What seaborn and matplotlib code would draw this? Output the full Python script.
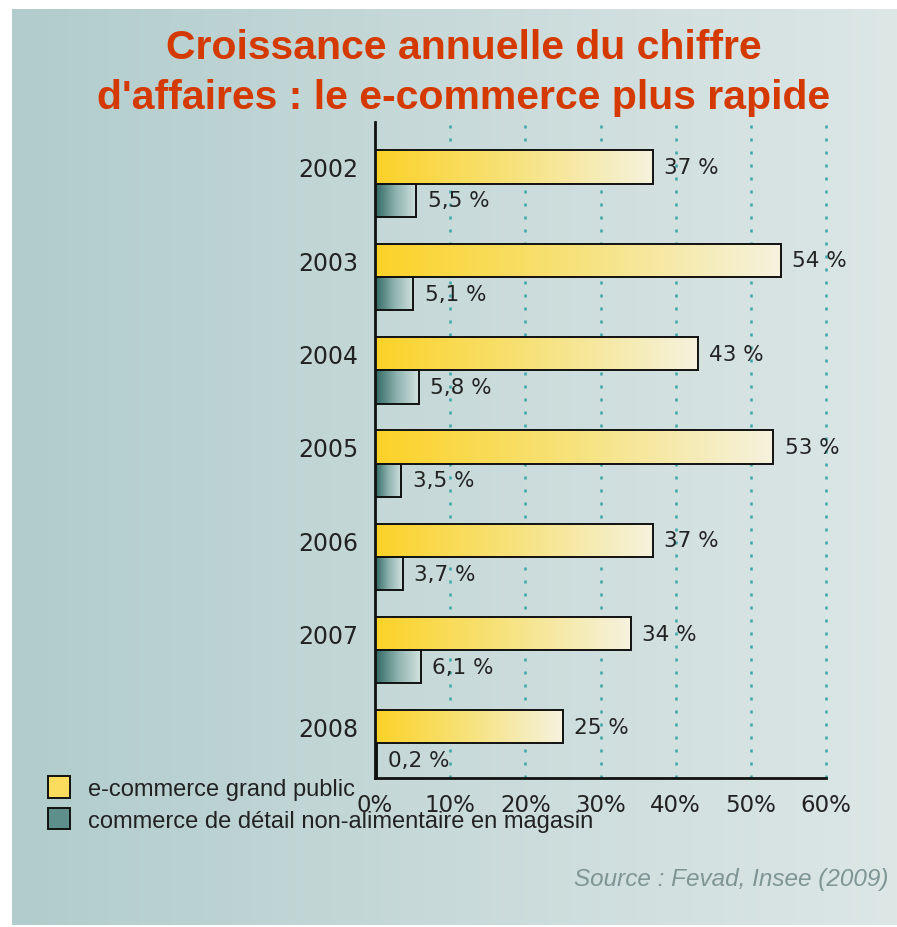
import numpy as np
import pandas as pd
import seaborn as sns
import matplotlib.pyplot as plt
from matplotlib.colors import LinearSegmentedColormap
from matplotlib.patches import Patch

# données (croissance annuelle du CA, en %)
annees = ["2002", "2003", "2004", "2005", "2006", "2007", "2008"]
ecommerce = [37, 54, 43, 53, 37, 34, 25]
magasin = [5.5, 5.1, 5.8, 3.5, 3.7, 6.1, 0.2]
series = ["e-commerce grand public", "commerce de détail non-alimentaire en magasin"]
xticks = [0, 10, 20, 30, 40, 50, 60]

df = pd.DataFrame({
    "annee": annees * 2,
    "valeur": ecommerce + magasin,
    "serie": [series[0]] * len(annees) + [series[1]] * len(annees),
})

cmap_jaune = LinearSegmentedColormap.from_list("jaune", ["#fcd227", "#f7e27c", "#f5f2de"])
cmap_vert = LinearSegmentedColormap.from_list("vert", ["#2f6763", "#8fb3af", "#d2e2df"])
cmap_fond = LinearSegmentedColormap.from_list("fond", ["#b1cccc", "#c9dada", "#dce7e6"])

sns.set_style("white")
plt.rcParams["font.family"] = ["DejaVu Sans"]

fig = plt.figure(figsize=(8.97, 9.28), dpi=100)

# fond dégradé
bg = fig.add_axes([12 / 897, 2 / 928, 885 / 897, 916 / 928])
bg.imshow(np.linspace(0, 1, 256)[None, :], cmap=cmap_fond, aspect="auto", extent=[0, 1, 0, 1])
bg.set_axis_off()

ax = fig.add_axes([375 / 897, 149 / 928, 451 / 897, 656 / 928])
ax.patch.set_alpha(0)

sns.barplot(data=df, y="annee", x="valeur", hue="serie", orient="h",
            width=0.714, dodge=True, ax=ax, legend=False,
            edgecolor="#111111", linewidth=1.4)

n = len(annees)
grad = np.linspace(0, 1, 256)[None, :]
patches = list(ax.patches)
for k, p in enumerate(patches):
    x, y, w, h = p.get_x(), p.get_y(), p.get_width(), p.get_height()
    cm = cmap_jaune if k < n else cmap_vert
    if w > 0.3:
        im = ax.imshow(grad, cmap=cm, aspect="auto", extent=[x, x + w, y + h, y], zorder=1.5)
        im.set_clip_path(p)
    p.set_facecolor("none")
    p.set_zorder(2)
    val = ecommerce[k] if k < n else magasin[k - n]
    txt = f"{val:g}".replace(".", ",") + " %"
    ax.text(x + w + 1.5, y + h / 2, txt, va="center", ha="left", fontsize=15.5, color="#222222", zorder=3)

ax.set_xlim(0, 60)
ax.set_ylim(6.37, -0.66)
ax.set_yticks([p.get_y() + p.get_height() / 2 for p in patches[:n]])
ax.set_yticklabels(annees)
ax.set_xticks(xticks)
ax.set_xticklabels([f"{t}%" for t in xticks])
ax.tick_params(axis="y", length=0, pad=12, labelsize=17, labelcolor="#222222")
ax.tick_params(axis="x", length=0, pad=11, labelsize=16.5, labelcolor="#222222")
ax.set_xlabel("")
ax.set_ylabel("")

ax.grid(False)
for t in xticks[1:]:
    ax.axvline(t, color="#3aa7a6", linestyle=(0, (1.2, 4)), linewidth=1.8, zorder=0.5, clip_on=False)

sns.despine(ax=ax, top=True, right=True)
ax.spines["left"].set_color("#111111")
ax.spines["bottom"].set_color("#111111")
ax.spines["left"].set_linewidth(2)
ax.spines["bottom"].set_linewidth(2)

fig.text(464 / 897, 1 - 73 / 928, "Croissance annuelle du chiffre\nd'affaires : le e-commerce plus rapide",
         ha="center", va="center", fontsize=29.5, fontweight="bold", color="#d43a00",
         family="Liberation Sans", linespacing=1.42)

handles = [Patch(facecolor="#fbdc5c", edgecolor="#111111", linewidth=1.4),
           Patch(facecolor="#5e8f8b", edgecolor="#111111", linewidth=1.4)]
fig.legend(handles, series, loc="upper left", bbox_to_anchor=(48 / 897, 1 - 777 / 928),
           frameon=False, prop={"family": "Liberation Sans", "size": 17},
           handlelength=0.95, handleheight=1.05,
           handletextpad=0.75, labelspacing=0.32, borderaxespad=0, borderpad=0,
           labelcolor="#222222")

fig.text(888 / 897, 1 - 880 / 928, "Source : Fevad, Insee (2009)", ha="right", va="center",
         fontsize=17.5, style="italic", color="#7f9595", family="Liberation Sans")

fig.savefig("out.png", dpi=100)
